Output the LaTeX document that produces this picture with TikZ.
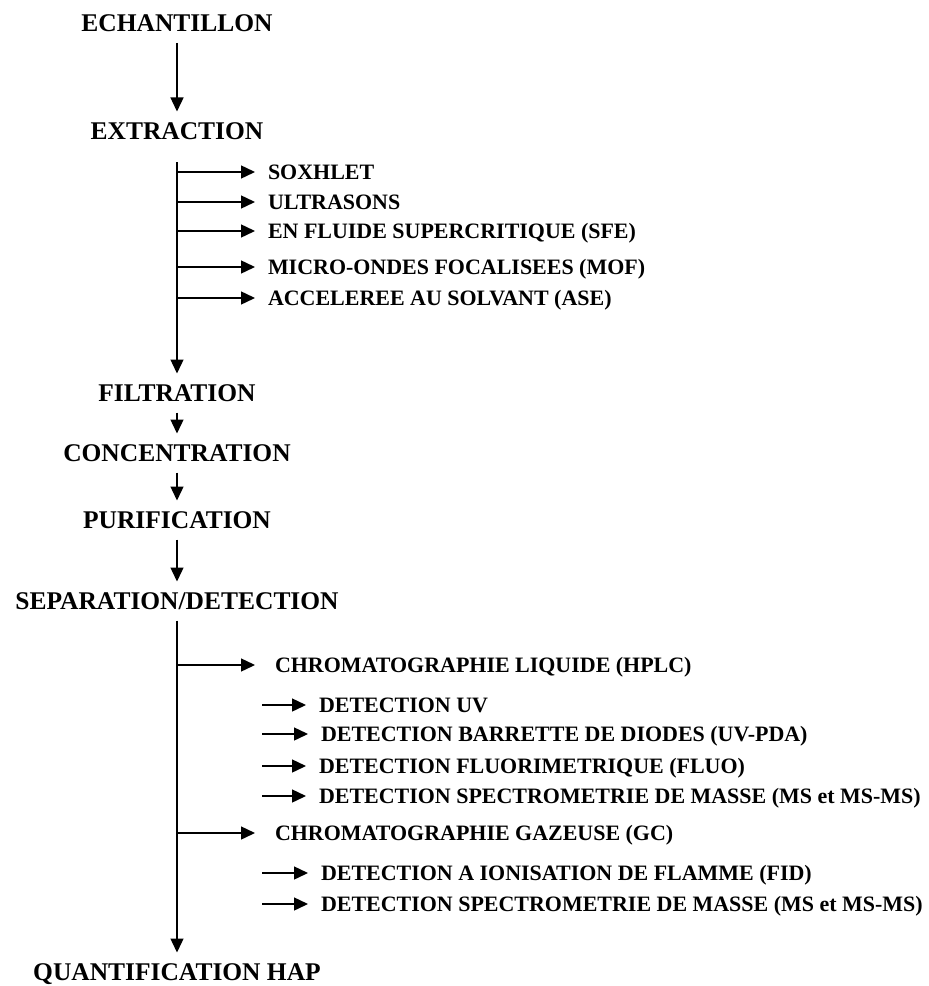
\documentclass[tikz,border=0pt]{standalone}
\usepackage{fontspec}
\setmainfont{Liberation Serif}
\usetikzlibrary{positioning,arrows.meta}
\tikzstyle{etape}=[font=\fontsize{14.5}{17}\selectfont\bfseries, inner sep=0pt, text height=0.34cm, text depth=0pt, outer sep=0.22cm]
\tikzstyle{meth}=[font=\fontsize{12.5}{15}\selectfont\bfseries, inner sep=0pt, text height=0.29cm, text depth=0pt, outer sep=0.26cm, anchor=west]

\begin{document}
\begin{tikzpicture}[node distance=2cm,>={Triangle[length=0.28cm,width=0.26cm]},line width=0.8pt]
\useasboundingbox (0,0) rectangle (18.56,-19.72);
  \node[etape] at (3.54,-0.47) (ech) {ECHANTILLON};
  \node[etape, below of = ech, node distance = 2.15cm] (ext) {EXTRACTION};
\draw[->] (ech) -- (ext);

\node[meth] at (5.10,-3.44) (m1) {SOXHLET};
\node[meth] at (5.10,-4.04) (m2) {ULTRASONS};
\node[meth] at (5.10,-4.62) (m3) {EN FLUIDE SUPERCRITIQUE (SFE)};
\node[meth] at (5.10,-5.34) (m4) {MICRO-ONDES FOCALISEES (MOF)};
\node[meth] at (5.10,-5.96) (m5) {ACCELEREE AU SOLVANT (ASE)};

\node[etape, below of = ext, node distance = 5.24cm] (fil) {FILTRATION};
\draw[->] ([yshift=-0.24cm]ext.south) -- (fil);
\draw[->] (ext |- m1) -- (m1);
\draw[->] (ext |- m2) -- (m2);
\draw[->] (ext |- m3) -- (m3);
\draw[->] (ext |- m4) -- (m4);
\draw[->] (ext |- m5) -- (m5);

\node[etape, below of = fil, node distance = 1.2cm] (con) {CONCENTRATION};
\draw[->] (fil) -- (con);
\node[etape, below of = con, node distance = 1.34cm] (pur) {PURIFICATION};
\draw[->] (con) -- (pur);
\node[etape, below of = pur, node distance = 1.62cm] (sep) {SEPARATION/DETECTION};
\draw[->] (pur) -- (sep);

\node[etape, below of = sep, node distance = 7.42cm] (quant) {QUANTIFICATION HAP};
\draw[->] (sep) -- (quant);

% chromatographie liquide
\node[meth, outer xsep=0.4cm] at (5.10,-13.30) (hplc) {CHROMATOGRAPHIE LIQUIDE (HPLC)};
\draw[->] (sep |- hplc) -- (hplc);
\node[meth] at (6.12,-14.10) (d1) {DETECTION UV};
\node[meth] at (6.16,-14.68) (d2) {DETECTION BARRETTE DE DIODES (UV-PDA)};
\node[meth] at (6.12,-15.32) (d3) {DETECTION FLUORIMETRIQUE (FLUO)};
\node[meth] at (6.12,-15.92) (d4) {DETECTION SPECTROMETRIE DE MASSE (MS et MS-MS)};
\draw[->] ([xshift=-0.92cm]d2.west |- d1) -- (d1);
\draw[->] ([xshift=-0.92cm]d2.west) -- (d2);
\draw[->] ([xshift=-0.92cm]d2.west |- d3) -- (d3);
\draw[->] ([xshift=-0.92cm]d2.west |- d4) -- (d4);

% chromatographie gazeuse
\node[meth, outer xsep=0.4cm] at (5.10,-16.66) (gc) {CHROMATOGRAPHIE GAZEUSE (GC)};
\draw[->] (sep |- gc) -- (gc);
\node[meth] at (6.16,-17.46) (d5) {DETECTION A IONISATION DE FLAMME (FID)};
\node[meth] at (6.16,-18.08) (d6) {DETECTION SPECTROMETRIE DE MASSE (MS et MS-MS)};
\draw[->] ([xshift=-0.92cm]d5.west) -- (d5);
\draw[->] ([xshift=-0.92cm]d6.west) -- (d6);
\end{tikzpicture}
\end{document}
